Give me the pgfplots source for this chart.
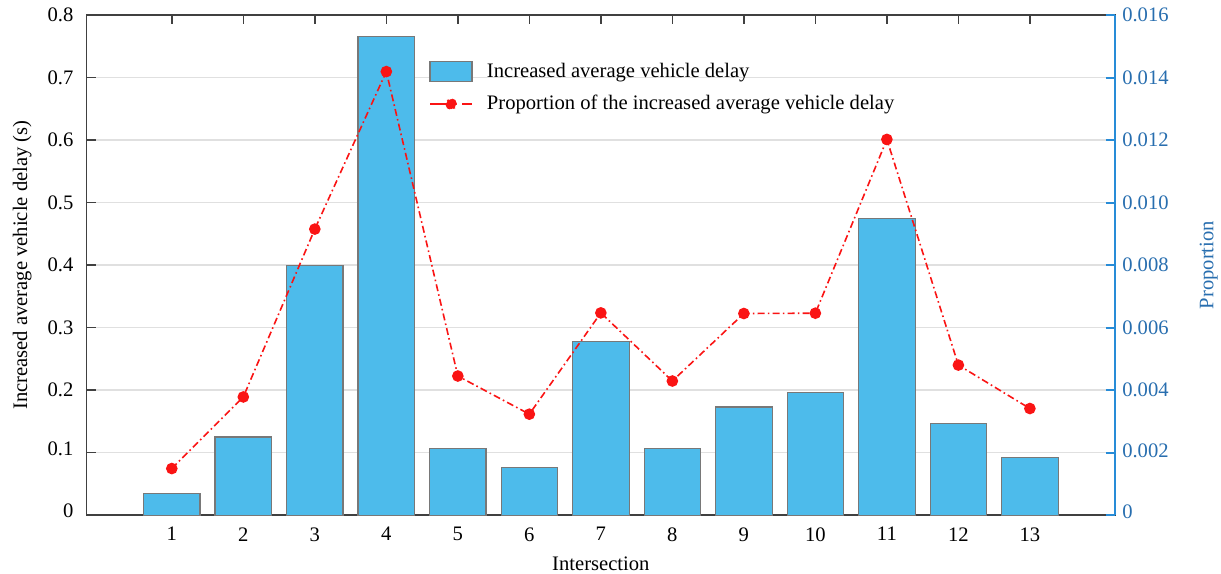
\documentclass[border=0pt]{standalone}
\usepackage{pgfplots}
\pgfplotsset{compat=1.18}
\usepackage{fontspec}
\setmainfont{Liberation Serif}
\definecolor{barblue}{RGB}{77,187,235}
\definecolor{bargray}{RGB}{120,120,120}
\definecolor{axblue}{RGB}{40,140,215}
\definecolor{lblblue}{RGB}{40,110,175}
\definecolor{lred}{RGB}{250,20,20}
\begin{document}
\fontsize{10.3}{12.4}\selectfont
\begin{tikzpicture}
\path[use as bounding box] (-43.35pt,-29pt) rectangle (567pt,257.5pt);
\pgfplotsset{
  every axis/.append style={font=\fontsize{10.3}{12.4}\selectfont},
  /pgf/number format/assume math mode=true,
}
\begin{axis}[
  at={(0,0)}, anchor=south west,
  scale only axis, width=514pt, height=250pt,
  xmin=-0.19, xmax=14.19, ymin=0, ymax=0.8,
  xtick={1,2,3,4,5,6,7,8,9,10,11,12,13},
  ytick={0,0.1,0.2,0.3,0.4,0.5,0.6,0.7,0.8},
  yticklabels={\raisebox{4.5pt}{0},\raisebox{4pt}{0.1},0.2,0.3,0.4,0.5,\raisebox{-1.5pt}{0.6},\raisebox{-1pt}{0.7},\raisebox{-2.5pt}{0.8}},
  yticklabel style={inner ysep=0pt, xshift=-3pt},
  xticklabel style={yshift=-2.5pt},
  xtick pos=both, ytick pos=left,
  tick align=inside, major tick length=4.5pt,
  tick style={black!75, line width=0.7pt},
  axis line style={black!75, line width=0.75pt},
  ymajorgrids, grid style={black!12, line width=0.6pt},
  xlabel={Intersection},
  ylabel={Increased average vehicle delay (s)},
  xlabel style={yshift=-0.5pt},
  ylabel style={yshift=1pt},
]
\addplot[ybar, bar width=0.79, fill=barblue, draw=bargray, line width=0.6pt]
coordinates {(1,0.035) (2,0.125) (3,0.399) (4,0.765) (5,0.107) (6,0.076) (7,0.278) (8,0.107) (9,0.173) (10,0.196) (11,0.474) (12,0.146) (13,0.092)};
\end{axis}
\begin{axis}[
  at={(0,0)}, anchor=south west,
  scale only axis, width=514pt, height=250pt,
  xmin=-0.19, xmax=14.19, ymin=0, ymax=0.016,
  hide x axis,
  axis y line*=right,
  y axis line style={axblue, line width=1pt},
  ytick={0,0.002,0.004,0.006,0.008,0.010,0.012,0.014,0.016},
  yticklabels={\raisebox{3pt}{0},\raisebox{2pt}{0.002},0.004,0.006,0.008,0.010,0.012,0.014,\raisebox{-1.2pt}{0.016}},
  yticklabel style={lblblue, inner ysep=0pt},
  ytick style={axblue, line width=1pt},
  tick align=inside, major tick length=4.5pt,
  ylabel={Proportion}, ylabel style={lblblue, yshift=-8.5pt},
  legend style={at={(0.327,0.921)}, anchor=north west, draw=none, fill=none,
    cells={anchor=west}, row sep=3.5pt, font=\fontsize{10.3}{12.4}\selectfont},
]
\addlegendimage{legend image code/.code={\draw[fill=barblue, draw=bargray, line width=0.8pt] (0pt,-5pt) rectangle (21pt,5pt); \path (26pt,0pt);}}
\addlegendentry{Increased average vehicle delay}
\addplot[lred, line width=0.8pt, dash pattern=on 3.5pt off 1.6pt on 0.8pt off 1.6pt,
  mark=*, mark size=2.5pt, mark options={solid, fill=lred, draw=lred},
  legend image code/.code={\draw[lred, line width=0.8pt, solid] (0pt,0pt) -- (13pt,0pt); \draw[lred, line width=0.8pt, solid] (16pt,0pt) -- (21pt,0pt); \fill[lred] (10.5pt,0pt) circle (2.5pt); \path (26pt,0pt);}]
coordinates {(1,0.00149) (2,0.00378) (3,0.00915) (4,0.01419) (5,0.00445) (6,0.00323) (7,0.00647) (8,0.00429) (9,0.00645) (10,0.00646) (11,0.01202) (12,0.0048) (13,0.00341)};
\addlegendentry{Proportion of the increased average vehicle delay}
\end{axis}
\end{tikzpicture}
\end{document}
